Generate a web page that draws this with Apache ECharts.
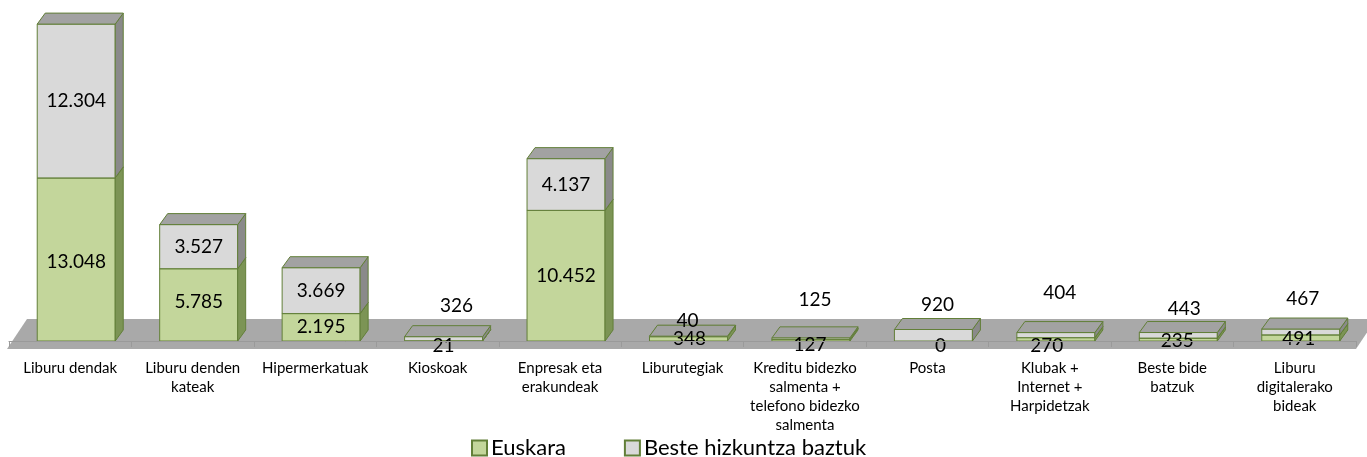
<!DOCTYPE html>
<html>
<head>
<meta charset="utf-8">
<script src="https://cdn.jsdelivr.net/npm/echarts@6/dist/echarts.min.js"></script>
<style>
html,body{margin:0;padding:0;background:#fff;}
#c{width:1367px;height:457px;}
</style>
</head>
<body>
<div id="c"></div>
<script>
// ---- data ----
const categories = [
  "Liburu dendak",
  "Liburu denden\nkateak",
  "Hipermerkatuak",
  "Kioskoak",
  "Enpresak eta\nerakundeak",
  "Liburutegiak",
  "Kreditu bidezko\nsalmenta +\ntelefono bidezko\nsalmenta",
  "Posta",
  "Klubak +\nInternet +\nHarpidetzak",
  "Beste bide\nbatzuk",
  "Liburu\ndigitalerako\nbideak"
];
const euskara = [13048, 5785, 2195, 21, 10452, 348, 127, 0, 270, 235, 491];
const beste   = [12304, 3527, 3669, 326, 4137, 40, 125, 920, 404, 443, 467];
const seriesNames = ["Euskara", "Beste hizkuntza baztuk"];

// ---- label nudges (layout only, px) ----
const eusLabelDx = [0, 0, 0, 0, 0, 1, -1, 7, -9, -1, -2];
const eusLabelDy = [2, -3, 0, 5, 0, 0, 5, 5, 7, 1, 1];
const besLabelDx = [0, 0, 0, 13, 0, -1, 4, 4, 4, 6, 2];
const besLabelDy = [0, 0, 0, -33, 0, -16, -39, -30, -42, -26, -33];

// ---- layout ----
const W = 1367, H = 457;
const gridLeft = 9, gridRight = 11, gridTop = 16, gridBottom = 116;
const baseY = H - gridBottom;
const depthDX = 8, depthDY = -11;
const outline = '#627f38';

function fmt(n){ return String(n).replace(/\B(?=(\d{3})+(?!\d))/g, '.'); }

function makeRender(colFront, colSide, colTop, values, dxArr, dyArr){
  return function(params, api){
    const i = api.value(0), lo = api.value(1), hi = api.value(2);
    const bw = api.size([1, 0])[0];
    const pLo = api.coord([i, lo]);
    const pHi = api.coord([i, hi]);
    const L = pLo[0] - bw * 0.2695;
    const R = pLo[0] + bw * 0.3675;
    const yb = pLo[1], yt = pHi[1];
    const children = [];
    if (hi > lo) {
      children.push({type:'polygon', z2:1, shape:{points:[[L,yb],[R,yb],[R,yt],[L,yt]]},
        style:{fill:colFront, stroke:outline, lineWidth:1}});
      children.push({type:'polygon', z2:1, shape:{points:[[R,yb],[R+depthDX,yb+depthDY],[R+depthDX,yt+depthDY],[R,yt]]},
        style:{fill:colSide, stroke:outline, lineWidth:1}});
      children.push({type:'polygon', z2:1, shape:{points:[[L,yt],[L+depthDX,yt+depthDY],[R+depthDX,yt+depthDY],[R,yt]]},
        style:{fill:colTop, stroke:outline, lineWidth:1}});
    }
    const cx = (L + R) / 2 + dxArr[i];
    const cy = (yb + yt) / 2 + dyArr[i];
    children.push({type:'text', z2:100, style:{text: fmt(values[i]), x: cx, y: cy,
      font: '19px Lato', fill:'#000', align:'center', verticalAlign:'middle'}});
    return {type:'group', children};
  };
}

const eusData = categories.map((c, i) => [i, 0, euskara[i]]);
const besData = categories.map((c, i) => [i, euskara[i], euskara[i] + beste[i]]);

const chart = echarts.init(document.getElementById('c'), null, {renderer:'canvas'});
chart.setOption({
  animation: false,
  backgroundColor: '#fff',
  grid: {left: gridLeft, right: gridRight, top: gridTop, bottom: gridBottom, containLabel: false},
  graphic: [{
    type: 'polygon', z: -1, silent: true,
    shape: {points: [[gridLeft - 2, baseY + 8], [W - gridRight, baseY + 8], [W - gridRight + 20, baseY - 22], [gridLeft + 18, baseY - 22]]},
    style: {fill: '#a9a9a9'}
  }],
  legend: {
    left: 466, top: 432, itemGap: 58, itemWidth: 15, itemHeight: 15, icon: 'rect',
    textStyle: {fontFamily: 'Lato', fontSize: 22, color: '#000', padding:[0,0,0,-1]},
    data: seriesNames
  },
  xAxis: {
    type: 'category', data: categories, offset: 8, z: 5,
    axisLine: {show: true, lineStyle: {color: '#9a9a9a', width: 1}},
    axisTick: {show: true, length: 6, lineStyle: {color: '#9a9a9a'}},
    axisLabel: {interval: 0, margin: 10, fontFamily: 'Lato', fontSize: 15, lineHeight: 19, color: '#000'},
    splitLine: {show: false}
  },
  yAxis: {type: 'value', min: 0, max: 26000, show: false, splitLine: {show: false}},
  series: [
    {name: seriesNames[0], type: 'custom', z: 2, data: eusData, encode: {x: 0, y: [1, 2]},
      itemStyle: {color: '#c3d69b', borderColor: outline, borderWidth: 1.5},
      renderItem: makeRender('#c3d69b', '#7c9455', '#9db567', euskara, eusLabelDx, eusLabelDy)},
    {name: seriesNames[1], type: 'custom', z: 2, data: besData, encode: {x: 0, y: [1, 2]},
      itemStyle: {color: '#d9d9d9', borderColor: outline, borderWidth: 1.5},
      renderItem: makeRender('#d9d9d9', '#8a8a8a', '#a2a2a2', beste, besLabelDx, besLabelDy)}
  ]
});
</script>
</body>
</html>
